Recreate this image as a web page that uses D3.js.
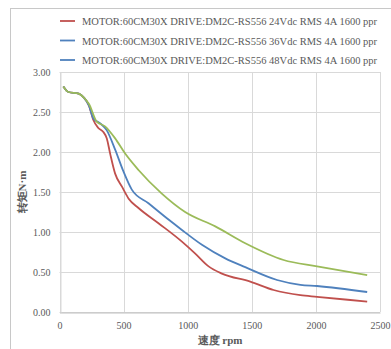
<!DOCTYPE html>
<html><head><meta charset="utf-8">
<script src="https://cdn.jsdelivr.net/npm/d3@7"></script>
<style>body{margin:0;background:#fff}svg{display:block}text{font-family:"Liberation Serif","DejaVu Serif",serif}</style>
</head><body><svg id="c" width="391" height="349"></svg>
<script>
const seriesNames = [
  "MOTOR:60CM30X DRIVE:DM2C-RS556 24Vdc RMS 4A 1600 ppr",
  "MOTOR:60CM30X DRIVE:DM2C-RS556 36Vdc RMS 4A 1600 ppr",
  "MOTOR:60CM30X DRIVE:DM2C-RS556 48Vdc RMS 4A 1600 ppr"
];
const lineColors = ["#c0504d", "#4f81bd", "#9bbb59"];
const legendColors = ["#c0504d", "#4f81bd", "#4f81bd"];
const xTicks = [0, 500, 1000, 1500, 2000, 2500];
const yTicks = [0, 0.5, 1, 1.5, 2, 2.5, 3];
const rpm24 = [30, 70, 150, 190, 230, 264, 303, 342, 369, 395, 434, 486, 538, 616, 772, 955, 1059, 1163, 1267, 1488, 1670, 1879, 2009, 2400];
const tq24  = [2.82, 2.75, 2.73, 2.68, 2.58, 2.40, 2.30, 2.25, 2.17, 1.98, 1.73, 1.57, 1.42, 1.30, 1.11, 0.88, 0.73, 0.57, 0.48, 0.38, 0.275, 0.21, 0.19, 0.13];
const rpm36 = [30, 70, 150, 190, 230, 264, 316, 369, 434, 498, 564, 694, 863, 955, 1111, 1293, 1449, 1697, 1879, 2009, 2400];
const tq36  = [2.82, 2.75, 2.73, 2.68, 2.58, 2.42, 2.36, 2.27, 2.03, 1.76, 1.53, 1.36, 1.14, 1.025, 0.84, 0.67, 0.56, 0.40, 0.34, 0.325, 0.25];
const rpm48 = [30, 70, 150, 190, 230, 290, 355, 434, 512, 616, 798, 980, 1215, 1449, 1748, 2009, 2400];
const tq48  = [2.82, 2.75, 2.73, 2.68, 2.60, 2.38, 2.32, 2.17, 1.98, 1.775, 1.48, 1.25, 1.07, 0.86, 0.65, 0.57, 0.46];
const series = [[rpm24, tq24], [rpm36, tq36], [rpm48, tq48]];

const svg = d3.select("#c");
svg.append("rect").attr("x",10.5).attr("y",8.5).attr("width",400).attr("height",400)
  .attr("fill","none").attr("stroke","#c8c8c8");
const x = d3.scaleLinear().domain([0,2500]).range([59.5,380]);
const y = d3.scaleLinear().domain([0,3]).range([312,72]);

const g = svg.append("g");
g.selectAll(".hg").data(yTicks).join("line")
  .attr("x1",x(0)).attr("x2",x(2500)).attr("y1",d=>Math.round(y(d))+0.5).attr("y2",d=>Math.round(y(d))+0.5)
  .attr("stroke","#d9d9d9");
g.selectAll(".vg").data(xTicks).join("line")
  .attr("y1",y(0)).attr("y2",y(3)).attr("x1",d=>Math.round(x(d))+0.5).attr("x2",d=>Math.round(x(d))+0.5)
  .attr("stroke","#d9d9d9");

const xa = svg.append("g").attr("transform",`translate(0,${Math.round(y(0))+0.5})`)
  .call(d3.axisBottom(x).tickValues(xTicks).tickSize(0).tickPadding(9).tickFormat(d3.format("d")));
xa.select(".domain").attr("stroke","#bfbfbf");
xa.selectAll("text").attr("fill","#595959").style("font-size","10px").style("font-family","Liberation Serif");
const ya = svg.append("g").attr("transform",`translate(${Math.round(x(0))+0.5},0)`)
  .call(d3.axisLeft(y).tickValues(yTicks).tickSize(0).tickPadding(10).tickFormat(d3.format(".2f")));
ya.select(".domain").attr("stroke","#d9d9d9");
ya.selectAll("text").attr("fill","#595959").style("font-size","10px").style("font-family","Liberation Serif");

const line = d3.line().x(d=>x(d[0])).y(d=>y(d[1])).curve(d3.curveMonotoneX);
series.forEach((s,i)=>{
  const pts = s[0].map((r,j)=>[r, s[1][j]]);
  svg.append("path").datum(pts).attr("d",line).attr("fill","none")
    .attr("stroke",lineColors[i]).attr("stroke-width",1.8);
});

const lg = svg.append("g");
seriesNames.forEach((n,i)=>{
  const yy = 21 + i*19.5;
  lg.append("line").attr("x1",60).attr("x2",75).attr("y1",yy).attr("y2",yy)
    .attr("stroke",legendColors[i]).attr("stroke-width",1.8);
  lg.append("text").attr("x",82).attr("y",yy+4).text(n)
    .attr("fill","#595959").style("font-size","10.5px");
});

svg.append("text").attr("transform",`translate(26,192) rotate(-90)`).attr("text-anchor","middle")
  .attr("fill","#595959").style("font-size","11px").style("font-weight","bold")
  .text("转矩N·m");
svg.append("text").attr("x",220).attr("y",344).attr("text-anchor","middle")
  .attr("fill","#595959").style("font-size","11px").style("font-weight","bold")
  .text("速度 rpm");
</script></body></html>
